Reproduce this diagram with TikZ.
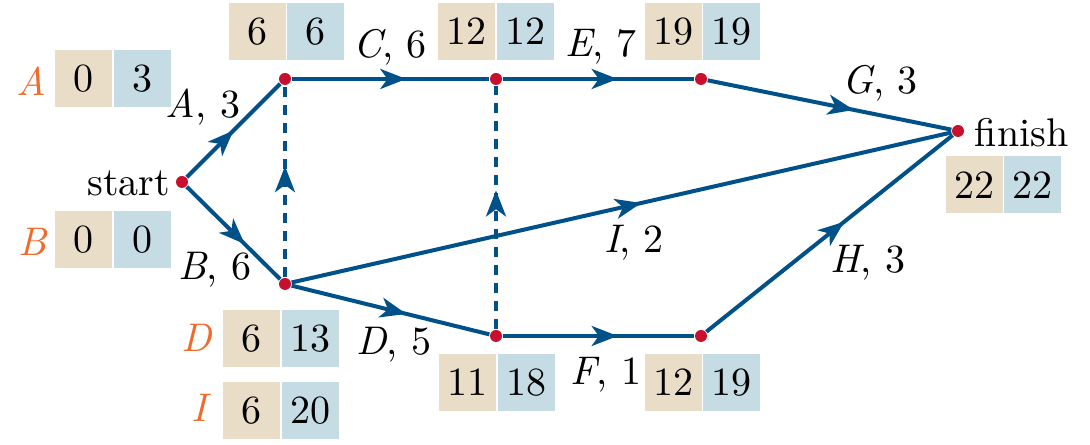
\documentclass[tikz,border=0pt]{standalone}
\usepackage{fontspec}
\usetikzlibrary{arrows.meta,decorations.markings,backgrounds}
\definecolor{edgeblue}{RGB}{0,80,138}
\definecolor{dotred}{RGB}{200,16,46}
\definecolor{tanc}{RGB}{233,221,199}
\definecolor{bluec}{RGB}{197,220,229}
\definecolor{orangec}{RGB}{240,106,43}
\newcommand{\ita}[1]{{\itshape #1}}
\begin{document}
\begin{tikzpicture}[x=0.25pt,y=-0.25pt,
  font=\normalfont\fontsize{10}{12}\selectfont,
  dotn/.style={circle,fill=dotred,inner sep=0,minimum size=3pt},
  edge/.style={draw=edgeblue,line width=1pt},
  dashln/.style={draw=edgeblue,line width=0.9pt,dash pattern=on 2.5pt off 2pt},
  midarr/.style={postaction={decorate},decoration={markings,mark=at position #1 with {\arrow[color=edgeblue]{Stealth[length=6.5pt,width=5pt,inset=1.8pt]}}}},
  cellt/.style={fill=tanc,minimum width=14.25pt,minimum height=14.25pt,inner sep=0},
  cellb/.style={fill=bluec,minimum width=14.25pt,minimum height=14.25pt,inner sep=0,anchor=west},
  lbl/.style={inner sep=0},
  act/.style={text=orangec,font=\normalfont\itshape\fontsize{10}{12}\selectfont,inner sep=0}]
\useasboundingbox (0,0) rectangle (1090,445);

% event dots
\node[dotn] (start) at (182,182) {};
\node[dotn] (n1) at (285,79) {};
\node[dotn] (n2) at (285,284) {};
\node[dotn] (n3) at (496,79) {};
\node[dotn] (n4) at (496,336) {};
\node[dotn] (n5) at (701,79) {};
\node[dotn] (n6) at (701,336) {};
\node[dotn] (fin) at (958,131) {};

\begin{scope}[on background layer]
\draw[edge,midarr=0.5] (start) -- (n1);
\draw[edge,midarr=0.62] (start) -- (n2);
\draw[edge,midarr=0.58] (n1) -- (n3);
\draw[edge,midarr=0.58] (n2) -- (n4);
\draw[edge,midarr=0.6] (n3) -- (n5);
\draw[edge,midarr=0.6] (n4) -- (n6);
\draw[edge,midarr=0.6] (n5) -- (fin);
\draw[edge,midarr=0.56] (n6) -- (fin);
\draw[edge,midarr=0.53] (n2) -- (fin);
\draw[dashln,midarr=0.58] (n2) -- (n1);
\draw[dashln,midarr=0.57] (n4) -- (n3);
\end{scope}

% boxes
\node[cellt] (a1) at (83.5,78.5) {0};   \node[cellb] (a2) at (a1.east) {3};
\node[cellt] (b1) at (83.5,239.5) {0};  \node[cellb] (b2) at (b1.east) {0};
\node[cellt] (c1) at (257,31.5) {6};    \node[cellb] (c2) at (c1.east) {6};
\node[cellt] (e1) at (466.5,31.5) {12}; \node[cellb] (e2) at (e1.east) {12};
\node[cellt] (g1) at (673,32) {19};     \node[cellb] (g2) at (g1.east) {19};
\node[cellt] (f1) at (974,185) {22};    \node[cellb] (f2) at (f1.east) {22};
\node[cellt] (h1) at (467.5,382.5) {11};\node[cellb] (h2) at (h1.east) {18};
\node[cellt] (k1) at (673,382.5) {12};  \node[cellb] (k2) at (k1.east) {19};
\node[cellt] (d1) at (251.5,338.5) {6}; \node[cellb] (d2) at (d1.east) {13};
\node[cellt] (i1) at (251.5,411) {6};   \node[cellb] (i2) at (i1.east) {20};

% activity letters
\node[act] (la) at (31,81) {A};
\node[act] (lb) at (33,242) {B};
\node[act] (ld) at (197,338) {D};
\node[act] (li) at (199,408) {I};

% texts
\node[lbl,anchor=east] (tstart) at (171,183) {start};
\node[lbl,anchor=west] (tfin) at (974,133) {finish};
\node[lbl] (ta) at (203,107) {\ita{A}, 3};
\node[lbl] (tb) at (215,270) {\ita{B}, 6};
\node[lbl] (tc) at (390,47) {\ita{C}, 6};
\node[lbl] (te) at (601,47) {\ita{E}, 7};
\node[lbl] (tg) at (880,83) {\ita{G}, 3};
\node[lbl] (ti) at (634,243) {\ita{I}, 2};
\node[lbl] (th) at (868,263) {\ita{H}, 3};
\node[lbl] (tf) at (606,375) {\ita{F}, 1};
\node[lbl] (td) at (394,345) {\ita{D}, 5};
\end{tikzpicture}
\end{document}
